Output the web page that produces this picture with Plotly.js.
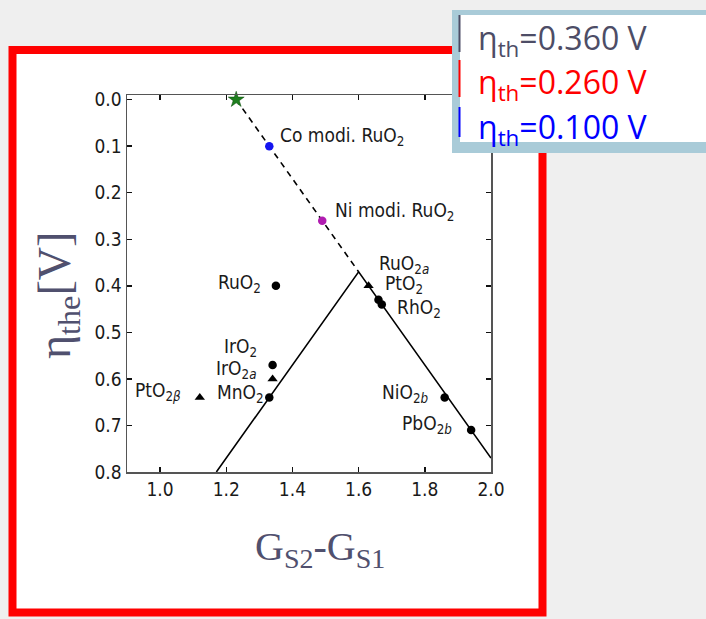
<!DOCTYPE html>
<html>
<head>
<meta charset="utf-8">
<script src="https://cdn.plot.ly/plotly-3.0.1.min.js"></script>
<style>
html,body{margin:0;padding:0;background:#efefef;}
#chart{width:706px;height:619px;}
</style>
</head>
<body>
<div id="chart"></div>
<script>
// ---- data ----
const volcanoX = [1.17, 1.60, 2.00];
const volcanoY = [0.80, 0.37, 0.77];
const dashedX = [1.23, 1.60];
const dashedY = [0.00, 0.37];
const starX = [1.23];
const starY = [0.00];
const coX = [1.33];
const coY = [0.10];
const niX = [1.49];
const niY = [0.26];
const circleNames = ["RuO<sub>2</sub>", "IrO<sub>2</sub>", "MnO<sub>2</sub>", "PtO<sub>2</sub>", "RhO<sub>2</sub>", "NiO<sub>2<i>b</i></sub>", "PbO<sub>2<i>b</i></sub>"];
const circleX = [1.35, 1.34, 1.33, 1.66, 1.67, 1.86, 1.94];
const circleY = [0.40, 0.57, 0.64, 0.43, 0.44, 0.64, 0.71];
const triNames = ["IrO<sub>2<i>a</i></sub>", "PtO<sub>2<i>β</i></sub>", "RuO<sub>2<i>a</i></sub>"];
const triX = [1.34, 1.12, 1.63];
const triY = [0.60, 0.64, 0.40];
const coName = "Co modi. RuO<sub>2</sub>";
const niName = "Ni modi. RuO<sub>2</sub>";
const xTicks = [1.0, 1.2, 1.4, 1.6, 1.8, 2.0];
const yTicks = [0.0, 0.1, 0.2, 0.3, 0.4, 0.5, 0.6, 0.7, 0.8];
const thresholds = ["0.360", "0.260", "0.100"];

// ---- layout helpers (pixel -> paper) ----
const W = 706, H = 619;
const M = {l:127, r:215, t:95, b:147};
const PW = W - M.l - M.r, PH = H - M.t - M.b;
const px = v => (v - M.l) / PW;
const py = v => (H - M.b - v) / PH;

const labelFont = {family: "DejaVu Sans Condensed, DejaVu Sans, sans-serif", size: 19, color: "#1a1a1a"};

// label placement styles: [anchor, xshift, yshift]
const circleLabelStyle = [["right",-13,2],["right",-14,17],["right",-3,4],["left",5,15],["left",13,-4],["right",-14,4],["right",-17,6]];
const triLabelStyle = [["right",-15,9],["right",-17,6],["left",8,21]];

const annotations = [];
function addLabel(text, x, y, st){
  annotations.push({x:x, y:y, xref:"x", yref:"y", text:text, showarrow:false,
    xanchor:st[0], yanchor:"middle", xshift:st[1], yshift:st[2], font:labelFont});
}
circleNames.forEach((n,i)=>addLabel(n, circleX[i], circleY[i], circleLabelStyle[i]));
triNames.forEach((n,i)=>addLabel(n, triX[i], triY[i], triLabelStyle[i]));
addLabel(coName, coX[0], coY[0], ["left",9,10]);
addLabel(niName, niX[0], niY[0], ["left",11,9]);

// axis titles
annotations.push({xref:"paper", yref:"paper", x:px(58), y:py(296), text:"η<sub>the</sub>[V]",
  textangle:-90, showarrow:false, xanchor:"center", yanchor:"middle",
  font:{family:"Liberation Serif, Times New Roman, serif", size:46, color:"#50506e"}});
annotations.push({xref:"paper", yref:"paper", x:px(320), y:py(549), text:"G<sub>S2</sub>-G<sub>S1</sub>",
  showarrow:false, xanchor:"center", yanchor:"middle",
  font:{family:"Liberation Serif, Times New Roman, serif", size:40, color:"#50506e"}});

// threshold legend text
const thColors = ["#4d4d66", "#ff0000", "#0000ff"];
const thCenters = [38, 82, 127];
thresholds.forEach((t,i)=>{
  annotations.push({xref:"paper", yref:"paper", x:px(476), y:py(thCenters[i]+2), xanchor:"left", yanchor:"middle",
    text:"η<sub>th</sub>=" + t + " V", showarrow:false,
    font:{family:"Open Sans, Lato, sans-serif", size:32, color:thColors[i]}});
});

const shapes = [
  // red frame with white inside
  {type:"rect", xref:"paper", yref:"paper", x0:px(12.5), x1:px(542.5), y0:py(50), y1:py(612.5),
   fillcolor:"#ffffff", line:{color:"#ff0000", width:8}, layer:"below"},
  // threshold box (outer blue, inner white)
  {type:"rect", xref:"paper", yref:"paper", x0:px(452), x1:px(712), y0:py(10), y1:py(153),
   fillcolor:"#a9cbd8", line:{width:0}, layer:"above"},
  {type:"rect", xref:"paper", yref:"paper", x0:px(460), x1:px(712), y0:py(15), y1:py(142),
   fillcolor:"#ffffff", line:{width:0}, layer:"above"},
];
const barY = [[15,52],[60,97],[107,137]];
barY.forEach((b,i)=>shapes.push({type:"line", xref:"paper", yref:"paper", x0:px(459.5), x1:px(459.5),
  y0:py(b[0]), y1:py(b[1]), line:{color:thColors[i], width:2}, layer:"above"}));

const traces = [
  {x:volcanoX, y:volcanoY, mode:"lines", line:{color:"#000", width:1.6}, hoverinfo:"skip"},
  {x:dashedX, y:dashedY, mode:"lines", line:{color:"#000", width:1.6, dash:"6px,5px"}, hoverinfo:"skip"},
  {x:circleX, y:circleY, mode:"markers", marker:{symbol:"circle", size:8.5, color:"#000"}},
  {x:triX, y:triY, mode:"markers", marker:{symbol:"triangle-up", size:9, color:"#000"}},
  {x:starX, y:starY, mode:"markers", marker:{symbol:"star", size:12, color:"#1e7e1e", line:{color:"#0b4d0b", width:0.5}}, cliponaxis:false},
  {x:coX, y:coY, mode:"markers", marker:{symbol:"circle", size:8.5, color:"#1414f0"}},
  {x:niX, y:niY, mode:"markers", marker:{symbol:"circle", size:8.5, color:"#b01cb0"}},
];

const tickFont = {family:"DejaVu Sans Condensed, DejaVu Sans, sans-serif", size:19, color:"#1a1a1a"};
const axisCommon = {showgrid:false, zeroline:false, showline:true, linecolor:"#555", linewidth:1.5,
  ticks:"inside", ticklen:5, tickwidth:1.5, tickcolor:"#111", mirror:"ticks", tickformat:".1f", tickfont:tickFont};

const layout = {
  width:W, height:H, margin:{l:M.l, r:M.r, t:M.t, b:M.b, pad:0},
  paper_bgcolor:"#efefef", plot_bgcolor:"#ffffff", showlegend:false,
  xaxis:Object.assign({}, axisCommon, {range:[0.9, 2.0], tickvals:xTicks}),
  yaxis:Object.assign({}, axisCommon, {range:[0.8, -0.01], tickvals:yTicks}),
  shapes:shapes, annotations:annotations
};

Plotly.newPlot("chart", traces, layout, {displayModeBar:false, staticPlot:true});
</script>
</body>
</html>
